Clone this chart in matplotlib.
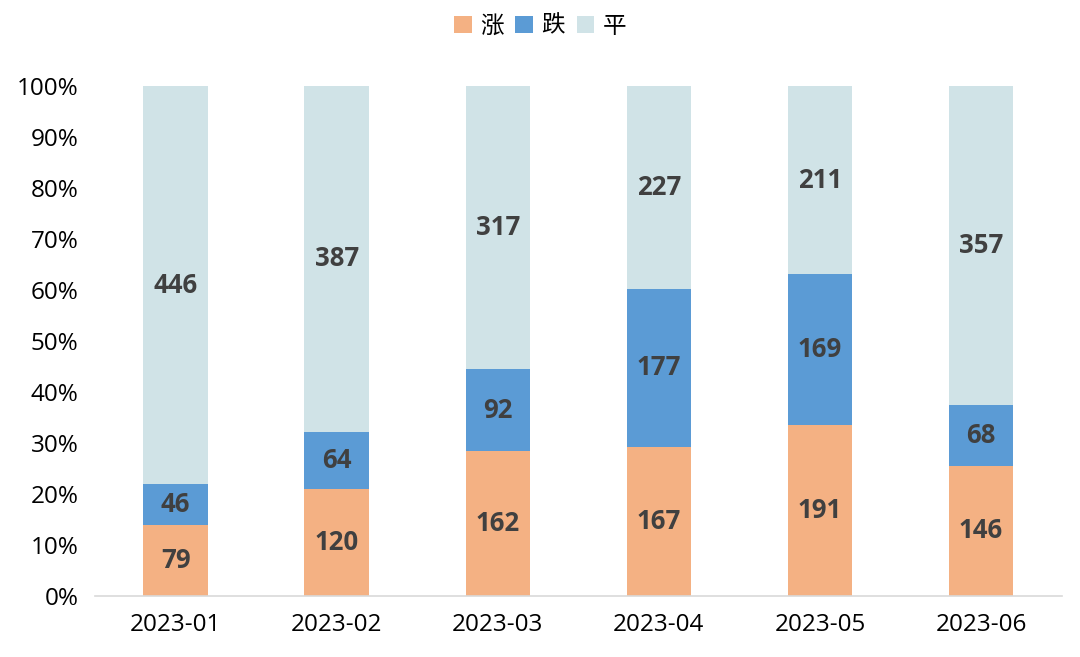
import matplotlib
matplotlib.use("Agg")
import numpy as np
import matplotlib.pyplot as plt
from matplotlib.ticker import PercentFormatter

plt.rcParams['font.family'] = ['Open Sans', 'Noto Sans CJK SC', 'DejaVu Sans']

months = ["2023-01", "2023-02", "2023-03", "2023-04", "2023-05", "2023-06"]
up = [79, 120, 162, 167, 191, 146]
down = [46, 64, 92, 177, 169, 68]
flat = [446, 387, 317, 227, 211, 357]

series = [("涨", up, "#F4B183"), ("跌", down, "#5B9BD5"), ("平", flat, "#D0E3E7")]

totals = np.array(up) + np.array(down) + np.array(flat)
x = np.arange(len(months))

fig = plt.figure(figsize=(10.8, 6.57), dpi=100)
ax = fig.add_axes([0.088, 0.093, 0.895, 0.776])

bottom = np.zeros(len(months))
for name, vals, color in series:
    share = np.array(vals) / totals * 100
    ax.bar(x, share, width=0.4, bottom=bottom, color=color, label=name)
    for xi, b, s, v in zip(x, bottom, share, vals):
        ax.text(xi, b + s / 2, str(v), ha="center", va="center",
                fontsize=18.5, fontweight="bold", color="#404040")
    bottom += share

ax.set_xlim(-0.5, len(months) - 0.5)
ax.set_ylim(0, 100)
ax.set_yticks(np.arange(0, 101, 10))
ax.yaxis.set_major_formatter(PercentFormatter(decimals=0))
ax.set_xticks(x)
ax.set_xticklabels(months)
ax.tick_params(axis="both", length=0, labelsize=17.5, colors="#000000")
ax.tick_params(axis="x", pad=12)
ax.tick_params(axis="y", pad=12)
for s in ["top", "right", "left"]:
    ax.spines[s].set_visible(False)
ax.spines["bottom"].set_color("#D9D9D9")
ax.spines["bottom"].set_linewidth(1.2)

fig.legend(loc="upper center", bbox_to_anchor=(0.5, 1.01), ncol=3, frameon=False,
           prop={'family': ['Noto Sans CJK SC'], 'size': 17},
           handlelength=0.75, handleheight=0.75, columnspacing=0.5,
           handletextpad=0.35)

fig.savefig("out.png", dpi=100)
